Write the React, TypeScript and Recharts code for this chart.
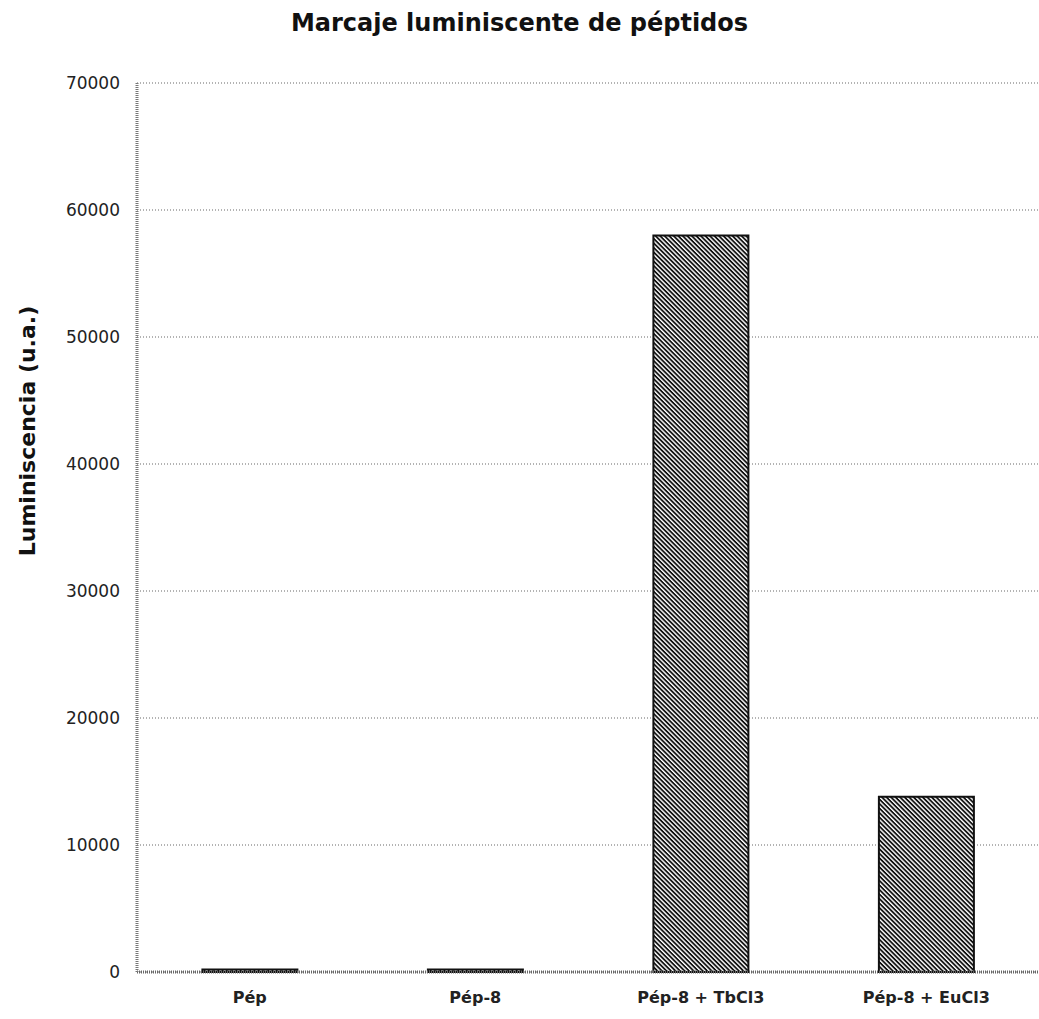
import React from "react";
import { BarChart, Bar, XAxis, YAxis, CartesianGrid, Label } from "recharts";

const categories = ["Pép", "Pép-8", "Pép-8 + TbCl3", "Pép-8 + EuCl3"];
const luminescence = [200, 200, 58000, 13800];
const yTicks = [0, 10000, 20000, 30000, 40000, 50000, 60000, 70000];

const data = categories.map((name, i) => ({ name, value: luminescence[i] }));

const FONT = "'DejaVu Sans', Verdana, sans-serif";

export default function App() {
  return (
    <div style={{ position: "relative", width: 1039, height: 1019, background: "#fff" }}>
      <style>{`body{margin:0;background:#fff}`}</style>
      <div
        style={{
          position: "absolute",
          left: 0,
          width: 1039,
          top: 9,
          textAlign: "center",
          fontFamily: FONT,
          fontWeight: "bold",
          fontSize: 24,
          color: "#111",
        }}
      >
        Marcaje luminiscente de péptidos
      </div>
      <BarChart
        width={1039}
        height={1019}
        data={data}
        margin={{ top: 83, right: 0, left: 0, bottom: 7 }}
        barCategoryGap="29%"
      >
        <defs>
          <pattern
            id="hatch"
            patternUnits="userSpaceOnUse"
            width="3.2"
            height="3.2"
            patternTransform="rotate(45)"
          >
            <rect x="0" y="0" width="3.2" height="3.2" fill="#ffffff" />
            <rect x="0" y="0" width="3.2" height="1.8" fill="#111" />
          </pattern>
        </defs>
        <CartesianGrid
          vertical={false}
          stroke="#9a9a9a"
          strokeDasharray="1 2"
          strokeWidth={1.5}
        />
        <XAxis
          dataKey="name"
          height={40}
          tickLine={false}
          tickMargin={14}
          axisLine={{ stroke: "#666", strokeWidth: 3, strokeDasharray: "1 1" }}
          tick={{ fontFamily: FONT, fontSize: 16, fontWeight: "bold", fill: "#222" }}
          interval={0}
        />
        <YAxis
          width={137}
          domain={[0, 70000]}
          ticks={yTicks}
          tickLine={false}
          tickMargin={11}
          axisLine={{ stroke: "#777", strokeWidth: 3, strokeDasharray: "1 1" }}
          tick={{ fontFamily: FONT, fontSize: 17, fill: "#222" }}
        >
          <Label
            content={() => (
              <text
                x={35}
                y={431}
                transform="rotate(-90 35 431)"
                textAnchor="middle"
                fontFamily={FONT}
                fontWeight="bold"
                fontSize={22}
                fill="#111"
              >
                Luminiscencia (u.a.)
              </text>
            )}
          />
        </YAxis>
        <Bar
          dataKey="value"
          fill="url(#hatch)"
          stroke="#111"
          strokeWidth={2}
          isAnimationActive={false}
        />
      </BarChart>
    </div>
  );
}
